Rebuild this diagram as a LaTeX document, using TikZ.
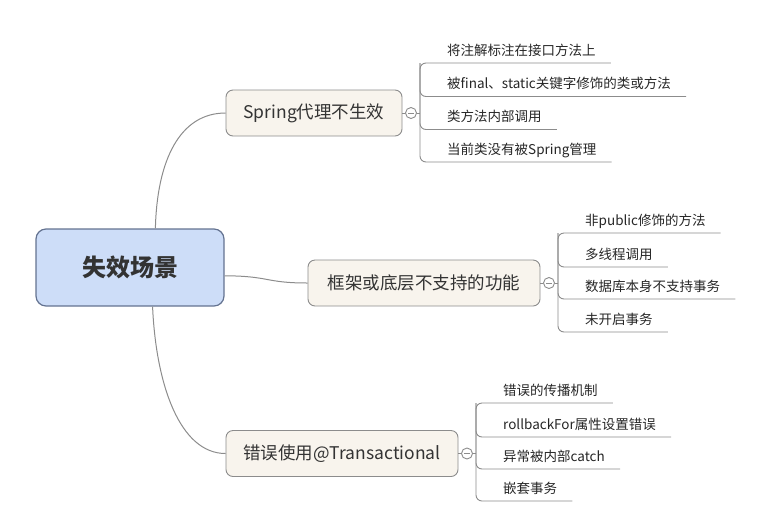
\documentclass[tikz,border=0pt]{standalone}
\usepackage{fontspec}
\newfontfamily\cjk{Noto Sans CJK SC}
\usepackage{tikz}

\definecolor{rootfill}{RGB}{205,221,248}
\definecolor{rootline}{RGB}{100,115,145}
\definecolor{branchfill}{RGB}{248,244,237}
\definecolor{lineg}{RGB}{140,140,140}
\definecolor{textg}{RGB}{51,51,51}

\begin{document}
\begin{tikzpicture}[x=1pt,y=-1pt]
\tikzstyle{rootbox}=[draw=rootline, line width=1.2pt, fill=rootfill, rounded corners=10pt, minimum width=188pt, minimum height=77pt, font=\cjk\fontsize{24}{28}\selectfont\bfseries, text=textg]
\tikzstyle{branchbox}=[draw=lineg, line width=0.9pt, fill=branchfill, rounded corners=7pt, minimum height=46pt, font=\cjk\fontsize{17.5}{20}\selectfont, text=textg]
\tikzstyle{leaf}=[anchor=base west, inner xsep=15pt, inner ysep=0pt, font=\cjk\fontsize{13.5}{16}\selectfont, text=black!85]
\tikzstyle{twig}=[draw=lineg, line width=0.9pt, rounded corners=6pt]
\tikzstyle{limb}=[draw=lineg, line width=1pt]
\tikzstyle{knob}=[circle, draw=lineg, line width=0.9pt, fill=white, minimum size=11pt, inner sep=0pt]
\useasboundingbox (0,0) rectangle (784,515);
%root and branches
\node[rootbox] (root) at (130,267.5) {失效场景};
\node[branchbox, minimum width=176pt] (spring) at (314,113) {Spring代理不生效};
\node[branchbox, minimum width=232pt] (frame) at (424,283) {框架或底层不支持的功能};
\node[branchbox, minimum width=232pt] (misuse) at (342,453.5) {错误使用@Transactional};
\draw[limb] (root.57) .. controls (157,160) and (180,113) .. (spring.west);
\draw[limb] (root.-5) .. controls (270,276) and (265,283) .. (frame.west);
\draw[limb] (root.-60) .. controls (156,385) and (180,453.5) .. (misuse.west);
%collapse knobs
\node[knob] (k1) at (411,113) {};
\node[knob] (k2) at (549,283) {};
\node[knob] (k3) at (467,453.5) {};
\draw[limb] (spring.east) -- (k1);
\draw[limb] (frame.east) -- (k2);
\draw[limb] (misuse.east) -- (k3);
\draw[lineg, line width=0.8pt] ([xshift=-3pt]k1.center) -- ([xshift=3pt]k1.center);
\draw[lineg, line width=0.8pt] ([xshift=-3pt]k2.center) -- ([xshift=3pt]k2.center);
\draw[lineg, line width=0.8pt] ([xshift=-3pt]k3.center) -- ([xshift=3pt]k3.center);
\coordinate (b1) at (420,113);
\coordinate (b2) at (558,283);
\coordinate (b3) at (476,453.5);
\draw[limb] (k1.east) -- (b1);
\draw[limb] (k2.east) -- (b2);
\draw[limb] (k3.east) -- (b3);
%first group
\node[leaf] (l11) at (432,55) {将注解标注在接口方法上};
\node[leaf] (l12) at (432,88.5) {被final、static关键字修饰的类或方法};
\node[leaf] (l13) at (432,121.5) {类方法内部调用};
\node[leaf] (l14) at (432,154) {当前类没有被Spring管理};
\draw[twig] ([yshift=-8pt]l11.base east) -- (420,63) -- (420,162) -- ([yshift=-8pt]l14.base east);
\draw[twig] (420,63) -- (420,96.5) -- ([yshift=-8pt]l12.base east);
\draw[twig] (420,63) -- (420,129.5) -- ([yshift=-8pt]l13.base east);
%second group
\node[leaf] (l21) at (570,225) {非public修饰的方法};
\node[leaf] (l22) at (570,259) {多线程调用};
\node[leaf] (l23) at (570,291) {数据库本身不支持事务};
\node[leaf] (l24) at (570,324) {未开启事务};
\draw[twig] ([yshift=-8pt]l21.base east) -- (558,233) -- (558,332) -- ([yshift=-8pt]l24.base east);
\draw[twig] (558,233) -- (558,267) -- ([yshift=-8pt]l22.base east);
\draw[twig] (558,233) -- (558,299) -- ([yshift=-8pt]l23.base east);
%third group
\node[leaf] (l31) at (488,395) {错误的传播机制};
\node[leaf] (l32) at (488,429) {rollbackFor属性设置错误};
\node[leaf] (l33) at (488,461) {异常被内部catch};
\node[leaf] (l34) at (488,493) {嵌套事务};
\draw[twig] ([yshift=-8pt]l31.base east) -- (476,403) -- (476,501) -- ([yshift=-8pt]l34.base east);
\draw[twig] (476,403) -- (476,437) -- ([yshift=-8pt]l32.base east);
\draw[twig] (476,403) -- (476,469) -- ([yshift=-8pt]l33.base east);
\end{tikzpicture}
\end{document}
